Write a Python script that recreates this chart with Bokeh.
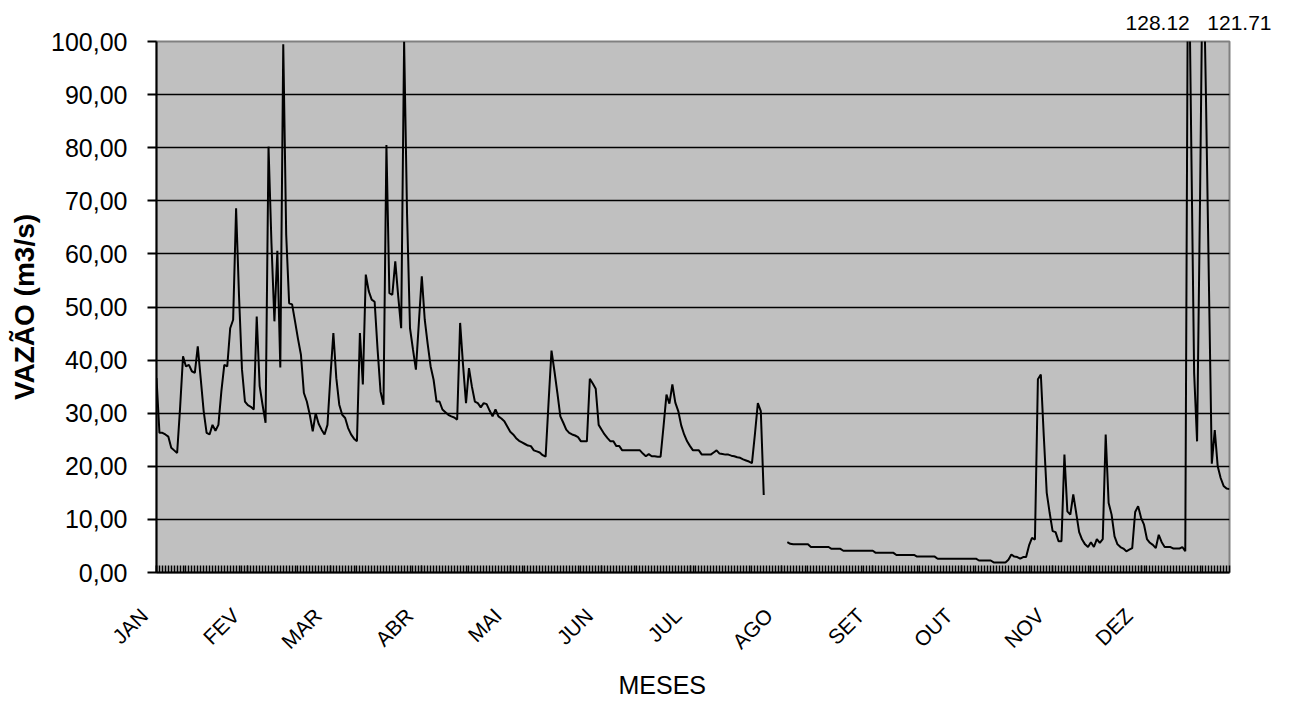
import math
import numpy as np
from bokeh.plotting import figure
from bokeh.models import Range1d, FixedTicker, Title
from bokeh.embed import file_html
from bokeh.resources import INLINE

# ---- data -------------------------------------------------------------
meses = ["JAN", "FEV", "MAR", "ABR", "MAI", "JUN", "JUL", "AGO", "SET", "OUT", "NOV", "DEZ"]
dias_mes = [31, 28, 31, 30, 31, 30, 31, 31, 30, 31, 30, 31]

jan = [36.6, 26.3, 26.3, 26.0, 25.6, 23.5, 23.0, 22.5, 31.0, 40.7, 38.8, 39.1, 37.9, 37.6, 42.6, 36.5,
       30.4, 26.3, 26.0, 27.8, 26.7, 27.8, 34.1, 39.1, 38.8, 46.0, 47.6, 68.6, 52.0, 38.2, 32.2]
fev = [31.5, 31.2, 30.7, 48.2, 35.1, 31.5, 28.2, 80.2, 62.0, 47.3, 60.6, 38.6, 99.5, 63.6, 50.7, 50.5,
       47.3, 44.0, 41.0, 33.8, 32.2, 29.7, 26.6, 30.0, 28.0, 26.9, 26.0, 27.8]
mar = [36.9, 45.1, 36.6, 31.6, 29.7, 29.1, 27.2, 26.0, 25.2, 24.7, 45.1, 35.4, 56.1, 53.0, 51.4, 51.0,
       42.0, 34.1, 31.6, 80.5, 52.6, 52.3, 58.6, 52.0, 46.0, 100.0, 67.4, 46.0, 42.0, 38.2, 47.0]
abr = [55.8, 47.6, 43.0, 38.8, 36.3, 32.2, 32.2, 30.7, 30.2, 29.7, 29.4, 29.2, 28.8, 47.0, 39.0, 31.9,
       38.5, 35.0, 32.2, 31.9, 31.1, 31.9, 31.7, 30.5, 29.4, 30.7, 29.4, 29.0, 28.5, 27.5]
mai = [26.5, 26.0, 25.3, 24.8, 24.5, 24.2, 23.9, 23.8, 23.0, 22.8, 22.6, 22.1, 21.8, 32.0, 41.8, 37.9,
       33.8, 29.4, 28.2, 26.9, 26.3, 26.0, 25.8, 25.5, 24.7, 24.7, 24.7, 36.5, 35.6, 34.6, 27.8]
jun = [26.9, 26.0, 25.3, 24.7, 24.7, 23.8, 23.8, 23.0, 23.0, 23.0, 23.0, 23.0, 23.0, 23.0, 22.4, 21.9,
       22.3, 21.9, 21.9, 21.8, 21.8, 27.5, 33.5, 31.8, 35.4, 32.0, 30.4, 27.7, 26.0, 24.7]
jul = [23.8, 23.0, 23.0, 23.0, 22.2, 22.2, 22.2, 22.2, 22.6, 23.0, 22.4, 22.3, 22.2, 22.2, 22.0, 21.9,
       21.7, 21.6, 21.3, 21.1, 20.9, 20.6, 26.0, 31.9, 30.4, 14.6, None, None, None, None, None]
ago = [None, None, 5.7, 5.4, 5.3, 5.3, 5.3, 5.3, 5.3, 5.3, 4.8, 4.8, 4.8, 4.8, 4.8, 4.8, 4.8,
       4.45, 4.45, 4.45, 4.45, 4.1, 4.1, 4.1, 4.1, 4.1, 4.1, 4.1, 4.1, 4.1, 4.1]
set_ = [4.1, 3.7, 3.7, 3.7, 3.7, 3.7, 3.7, 3.7, 3.3, 3.3, 3.3, 3.3, 3.3, 3.3, 3.3, 3.0, 3.0, 3.0,
        3.0, 3.0, 3.0, 3.0, 2.6, 2.6, 2.6, 2.6, 2.6, 2.6, 2.6, 2.6]
out = [2.6, 2.6, 2.6, 2.6, 2.6, 2.6, 2.26, 2.26, 2.26, 2.26, 2.26, 1.9, 1.9, 1.9, 1.9, 1.9,
       2.4, 3.4, 3.0, 2.9, 2.6, 2.9, 2.9, 5.1, 6.5, 6.2, 36.4, 37.3, 25.7, 15.0, 11.2]
nov = [7.8, 7.6, 5.9, 5.9, 22.2, 11.5, 10.9, 14.7, 11.2, 7.6, 6.2, 5.3, 4.8, 5.7, 4.8, 6.3, 5.6, 6.3,
       26.0, 13.1, 10.9, 6.8, 5.3, 4.8, 4.5, 4.0, 4.3, 4.6, 11.4, 12.5]
dez = [10.3, 9.0, 6.3, 5.6, 5.2, 4.6, 7.1, 5.7, 4.8, 4.8, 4.8, 4.5, 4.5, 4.5, 4.8, 4.0, 128.12, 82.0,
       37.6, 24.7, 70.0, 121.71, 90.0, 55.0, 20.5, 26.8, 20.0, 17.8, 16.3, 15.8, 15.7]

y_ticks = [0, 10, 20, 30, 40, 50, 60, 70, 80, 90, 100]

# ---- build ------------------------------------------------------------
vazao = jan + fev + mar + abr + mai + jun + jul + ago + set_ + out + nov + dez
assert len(vazao) == 365, len(vazao)
dias = list(range(len(vazao)))
valores = [np.nan if v is None else v for v in vazao]
inicio_mes = [int(v) for v in np.cumsum([0] + dias_mes[:-1])]

FONT = "Liberation Sans"
NBSP = "\u00a0"

p = figure(width=1291, height=702, output_backend="svg", toolbar_location=None,
           x_range=Range1d(0, len(vazao) - 1), y_range=Range1d(0, 100),
           min_border_left=156, min_border_right=62, min_border_top=41, min_border_bottom=129)
p.background_fill_color = "#C0C0C0"
p.border_fill_color = "white"
p.outline_line_color = "#808080"
p.outline_line_width = 2

p.line(dias, valores, line_color="black", line_width=2)

# y axis
ya = p.yaxis[0]
ya.ticker = FixedTicker(ticks=y_ticks)
ya.major_label_overrides = {t: f"{t:.2f}".replace(".", ",") for t in y_ticks}
ya.major_tick_out = 9
ya.major_tick_in = 0
ya.minor_tick_out = 0
ya.minor_tick_in = 0
ya.axis_line_color = "black"
ya.axis_line_width = 2
ya.major_tick_line_color = "black"
ya.major_tick_line_width = 2
ya.major_label_text_font = FONT
ya.major_label_text_font_size = "25px"
ya.major_label_text_color = "black"
ya.major_label_standoff = 20
ya.axis_label = "VAZÃO (m3/s)"
ya.axis_label_text_font = FONT
ya.axis_label_text_font_style = "bold"
ya.axis_label_text_font_size = "28px"
ya.axis_label_text_color = "black"
ya.axis_label_standoff = 8

# x axis
xa = p.xaxis[0]
xa.ticker = FixedTicker(ticks=inicio_mes, minor_ticks=dias)
xa.major_label_overrides = {d: m + NBSP * 3 for d, m in zip(inicio_mes, meses)}
xa.major_label_orientation = math.pi / 4
xa.major_tick_in = 7
xa.major_tick_out = 0
xa.minor_tick_in = 7
xa.minor_tick_out = 0
xa.major_tick_line_color = "black"
xa.minor_tick_line_color = "black"
xa.major_tick_line_width = 1.5
xa.minor_tick_line_width = 1.5
xa.axis_line_color = "black"
xa.axis_line_width = 2
xa.major_label_text_font = FONT
xa.major_label_text_font_size = "21px"
xa.major_label_text_color = "black"
xa.major_label_standoff = 27

p.xgrid.visible = False
p.ygrid.grid_line_color = "black"
p.ygrid.grid_line_width = 1.5

# x axis title (slightly left of centre, as in the original)
p.add_layout(Title(text="MESES", align="left", offset=462, standoff=8,
                   text_font=FONT, text_font_size="25px", text_font_style="normal",
                   text_color="black"), "below")

# values above the visible range, written above the plot area
picos = [v for v in vazao if v is not None and v > 100]
texto_picos = (NBSP * 3).join(f"{v:.2f}" for v in picos)
p.add_layout(Title(text=texto_picos, align="right", offset=-42, standoff=16,
                   text_font=FONT, text_font_size="21px", text_font_style="normal",
                   text_color="black"), "above")

open("out.html", "w").write(file_html(p, INLINE))
